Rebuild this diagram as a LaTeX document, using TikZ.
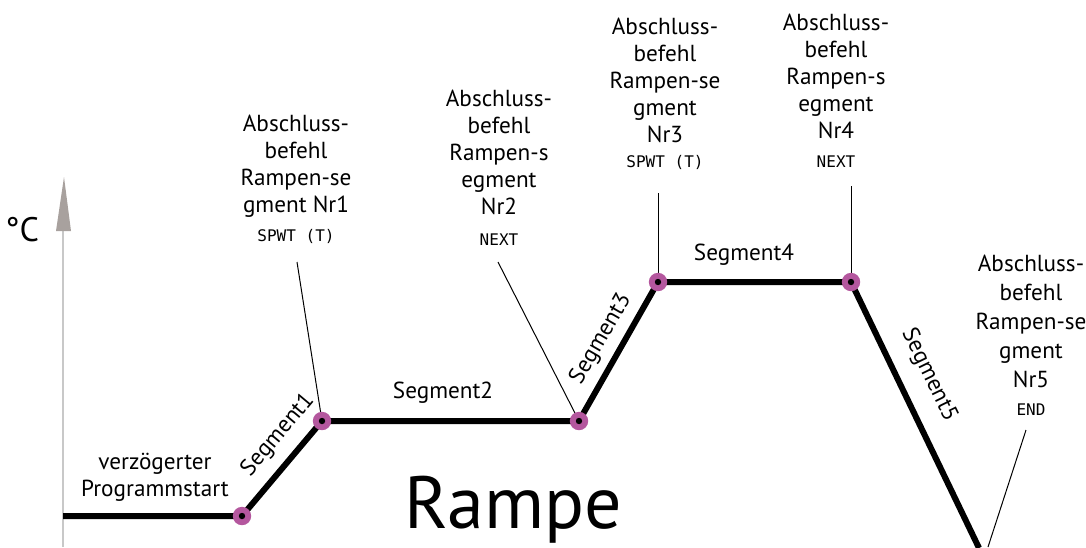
\documentclass[tikz,border=0pt]{standalone}
\usepackage{fontspec}
\setmainfont{PT Sans}
\newfontfamily\lcdfont{DejaVu Sans Mono}
\definecolor{ringc}{HTML}{B4579E}
\definecolor{axisc}{HTML}{C8C8C8}
\definecolor{arrowc}{HTML}{A8A19E}
\begin{document}
\begin{tikzpicture}[x=0.5pt,y=-0.5pt,
  lbl/.style={font=\fontsize{11.6}{13.5}\selectfont, align=center, inner sep=0pt},
  lcd/.style={font=\lcdfont\fontsize{8}{9}\selectfont, inner sep=0pt},
  ramp/.style={line width=3pt, line join=miter},
  leader/.style={line width=0.5pt},
  ringfill/.style={fill=ringc},
  dotfill/.style={fill=black}]
\useasboundingbox (0,0) rectangle (1086,547);
% axis
\coordinate (ax0) at (63,547);
\coordinate (ax1) at (63,231);
\coordinate (axtip) at (64,177);
\draw[axisc, line width=1pt] (ax0) -- (ax1);
\fill[arrowc] (axtip) -- (71,231) -- (56,231) -- cycle;
\node[font=\fontsize{17}{18}\selectfont, inner sep=0pt] (degc) at (22,230) {°C};
% ramp points
\coordinate (p0) at (63,516);
\coordinate (p1) at (242,516);
\coordinate (p2) at (322,421);
\coordinate (p3) at (579,421);
\coordinate (p4) at (658,282);
\coordinate (p5) at (851,282);
\coordinate (p6) at (979,548);
\draw[ramp] (p0) -- (p1) -- (p2) -- (p3) -- (p4) -- (p5) -- (p6);
% labels on ramp
\node[lbl] (vz) at (155,477) {verzögerter\\Programmstart};
\node[lbl, rotate=50] (s1) at (278,435) {Segment1};
\node[lbl, rotate=60] (s3) at (601,339) {Segment3};
\node[lbl] (s2) at (443,393) {Segment2};
\node[lbl] (s4) at (744,255) {Segment4};
\node[lbl, rotate=-64] (s5) at (929,375) {Segment5};
\node[font=\fontsize{37}{38}\selectfont, inner sep=0pt, anchor=base] (rampe) at (513,528) {Rampe};
% end-command labels
\node[lbl] (l1) at (296,166) {Abschluss-\\befehl\\Rampen-se\\gment Nr1};
\node[lcd] (c1) at (296,236) {SPWT (T)};
\node[lbl] (l2) at (499,152) {Abschluss-\\befehl\\Rampen-s\\egment\\Nr2};
\node[lcd] (c2) at (499,240) {NEXT};
\node[lbl] (l3) at (665,80) {Abschluss-\\befehl\\Rampen-se\\gment\\Nr3};
\node[lcd] (c3) at (665,162) {SPWT (T)};
\node[lbl] (l4) at (836,76) {Abschluss-\\befehl\\Rampen-s\\egment\\Nr4};
\node[lcd] (c4) at (836,162) {NEXT};
\node[lbl, font=\fontsize{11.6}{14.5}\selectfont] (l5) at (1031,321) {Abschluss-\\befehl\\Rampen-se\\gment\\Nr5};
\node[lcd] (c5) at (1031,410) {END};
% leader tops
\coordinate (t1) at (297,262);
\coordinate (t2) at (498,262);
\coordinate (t3) at (658,193);
\coordinate (t4) at (851,186);
\coordinate (t5) at (1026,430);
\coordinate (b5) at (988,547);
\draw[leader] (t1) -- (p2);
\draw[leader] (t2) -- (p3);
\draw[leader] (t3) -- (p4);
\draw[leader] (t4) -- (p5);
\draw[leader] (t5) -- (b5);
% markers
\foreach \p in {p1,p2,p3,p4,p5}{
  \fill[ringfill] (\p) circle[radius=4.6pt];
  \fill[dotfill] (\p) circle[radius=1.6pt];
}
\end{tikzpicture}
\end{document}
